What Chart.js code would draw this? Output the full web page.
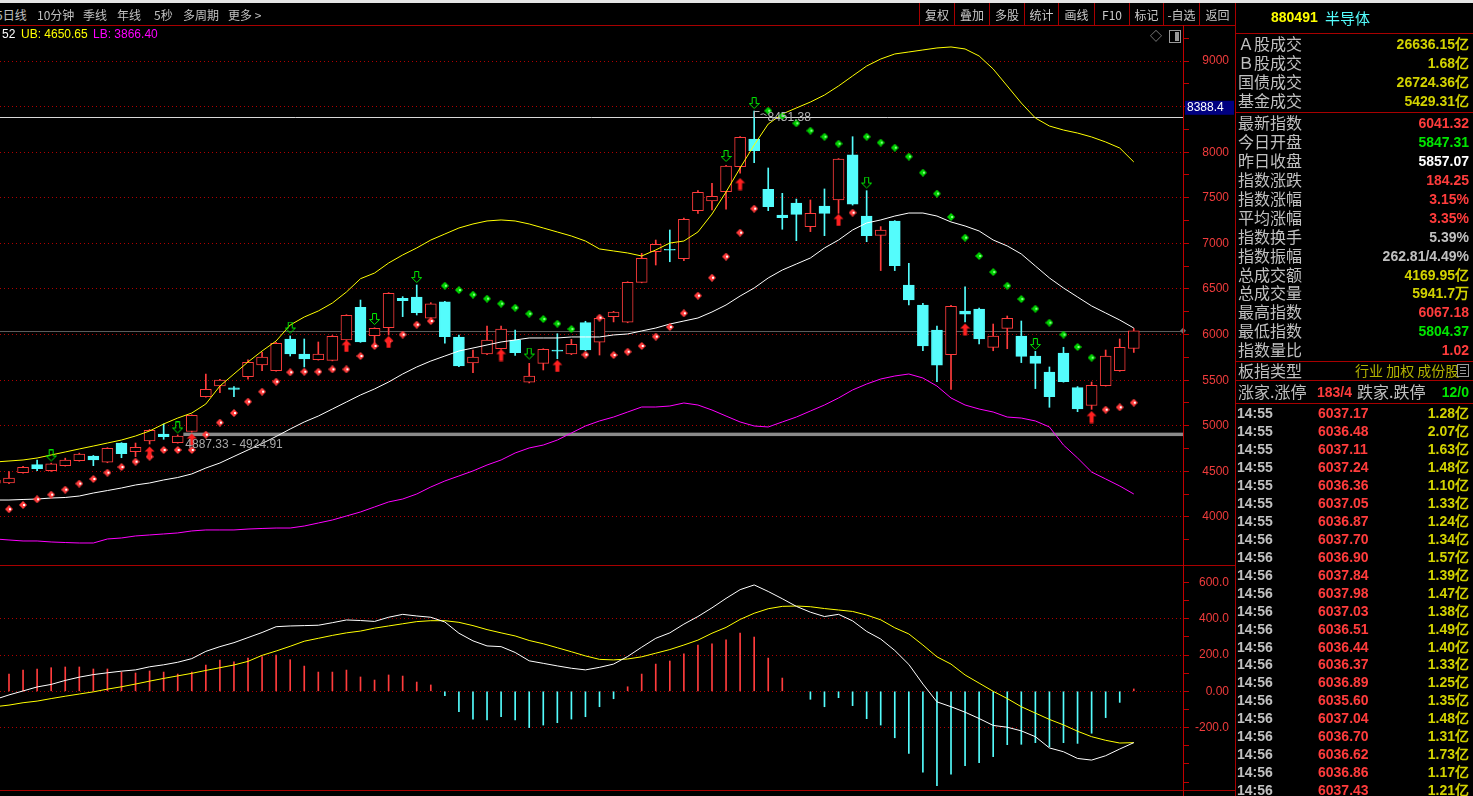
<!DOCTYPE html>
<html lang="zh-CN">
<head>
<meta charset="utf-8">
<title>880491 半导体</title>
<script src="https://cdn.jsdelivr.net/npm/chart.js@4.4.1/dist/chart.umd.min.js"></script>
<style>
  html, body { margin: 0; padding: 0; background: #000; }
  body { position: relative; width: 1473px; height: 796px; overflow: hidden; font-family: "Noto Sans CJK SC", "DejaVu Sans", sans-serif; }
  canvas { position: absolute; left: 0; }
  #priceChart { top: 26px; }
  #macdChart { top: 566px; }
  .t { position: absolute; white-space: nowrap; line-height: 1; }
  .ln { position: absolute; background: #a80000; }
</style>
</head>
<body>
<canvas id="priceChart" width="1235" height="539"></canvas>
<canvas id="macdChart" width="1235" height="224"></canvas>
<div id="chrome"></div>
<script>
// ===== Data: daily candles (first one is cut by the left edge) =====
const candleOpen = [
  4370, 4373, 4486, 4574, 4508, 4563, 4617, 4669, 4600, 4811,
  4717, 4833, 4910, 4815, 4937, 5320, 5436, 5415, 5539, 5667,
  5604, 5952, 5787, 5726, 5718, 5941, 6300, 5989, 6076, 6398,
  6412, 6179, 6358, 5974, 5689, 5787, 5845, 5941, 5477, 5685,
  5830, 5787, 6131, 5916, 6197, 6135, 6573, 6909, 6935, 6832,
  7359, 7465, 7567, 7841, 8145, 7593, 7311, 7442, 7184, 7410,
  7476, 7970, 7300, 7088, 7246, 6544, 6325, 6050, 5780, 6259,
  6281, 5860, 6069, 5985, 5765, 5590, 5798, 5419, 5223, 5441,
  5604, 5847.31
];
const candleHigh = [
  4415, 4497, 4555, 4625, 4590, 4645, 4700, 4675, 4760, 4815,
  4811, 4960, 5020, 4900, 5120, 5568, 5510, 5430, 5722, 5806,
  5915, 5985, 5952, 5919, 5990, 6218, 6379, 6075, 6460, 6416,
  6544, 6350, 6365, 5996, 5831, 6094, 6094, 6050, 5685, 5845,
  6010, 5948, 6146, 6190, 6255, 6580, 6891, 7037, 7147, 7278,
  7578, 7659, 7855, 8170, 8451.38, 7827, 7549, 7486, 7476, 7597,
  7930, 8170, 7578, 7184, 7250, 6782, 6343, 6094, 6320, 6525,
  6290, 6116, 6204, 6149, 5816, 5645, 5861, 5430, 5480, 5831,
  5952, 6067.18
];
const candleLow = [
  4360, 4365, 4480, 4508, 4500, 4558, 4612, 4563, 4595, 4650,
  4661, 4800, 4852, 4810, 4930, 5315, 5363, 5320, 5510, 5604,
  5600, 5765, 5645, 5720, 5712, 5935, 5915, 5905, 5996, 6197,
  6215, 6160, 5905, 5648, 5582, 5780, 5840, 5773, 5470, 5612,
  5736, 5780, 5825, 5776, 6139, 6130, 6568, 6763, 6799, 6810,
  7330, 7366, 7374, 7769, 7885, 7359, 7155, 7030, 7129, 7085,
  7330, 7420, 7019, 6702, 6702, 6325, 5823, 5484, 5400, 6140,
  5897, 5823, 5845, 5693, 5408, 5203, 5478, 5155, 5181, 5435,
  5598, 5804.37
];
const candleClose = [
  4406, 4428, 4545, 4530, 4582, 4625, 4691, 4625, 4753, 4694,
  4764, 4951, 4880, 4888, 5115, 5400, 5502, 5400, 5696, 5754,
  5905, 5787, 5733, 5787, 5981, 6212, 5920, 6070, 6453, 6372,
  6240, 6336, 5978, 5656, 5754, 5941, 6061, 5802, 5546, 5839,
  5818, 5894, 5831, 6179, 6248, 6573, 6836, 6990, 6925, 7264,
  7560, 7516, 7849, 8163, 8017, 7403, 7282, 7319, 7330, 7330,
  7925, 7430, 7085, 7147, 6757, 6379, 5875, 5666, 6310, 6223,
  5952, 5985, 6179, 5761, 5685, 5319, 5484, 5184, 5445, 5765,
  5861, 6041.32
];

// ===== Bollinger bands =====
const bollUpper = [
  4603, 4614, 4625, 4647, 4680, 4713, 4746, 4778, 4811, 4844,
  4888, 4943, 5020, 5085, 5140, 5239, 5436, 5568, 5700, 5820,
  5930, 6105, 6193, 6259, 6346, 6467, 6613, 6675, 6785, 6873,
  6950, 7037, 7103, 7169, 7213, 7246, 7257, 7246, 7213, 7169,
  7125, 7081, 7026, 6939, 6917, 6895, 6862, 6928, 7004, 7026,
  7125, 7322, 7564, 7827, 8079, 8309, 8419, 8485, 8550, 8627,
  8726, 8836, 8945, 9022, 9077, 9099, 9121, 9143, 9154, 9132,
  9055, 8912, 8726, 8539, 8375, 8287, 8243, 8210, 8167, 8112,
  8046, 7893
];
const bollMid = [
  4186, 4186, 4192, 4197, 4208, 4214, 4230, 4263, 4290, 4318,
  4351, 4373, 4406, 4433, 4472, 4537, 4592, 4664, 4735, 4806,
  4883, 4965, 5042, 5107, 5184, 5261, 5338, 5404, 5480, 5568,
  5645, 5710, 5765, 5820, 5853, 5886, 5919, 5941, 5963, 5963,
  5963, 5974, 5974, 5974, 5996, 6007, 6040, 6072, 6116, 6149,
  6182, 6248, 6325, 6423, 6511, 6621, 6708, 6774, 6840, 6950,
  7037, 7147, 7224, 7257, 7300, 7333, 7333, 7300, 7235, 7191,
  7136, 7037, 6972, 6884, 6752, 6621, 6511, 6412, 6314, 6237,
  6160, 6072
];
const bollLower = [
  3759, 3748, 3737, 3737, 3726, 3720, 3715, 3715, 3759, 3770,
  3792, 3803, 3814, 3825, 3847, 3858, 3858, 3858, 3868, 3874,
  3879, 3879, 3901, 3934, 3967, 4011, 4055, 4110, 4165, 4197,
  4252, 4329, 4395, 4450, 4505, 4570, 4625, 4702, 4757, 4789,
  4844, 4921, 4998, 5053, 5096, 5151, 5206, 5206, 5217, 5250,
  5228, 5173, 5107, 5042, 4998, 4987, 5042, 5096, 5162, 5228,
  5305, 5393, 5458, 5513, 5546, 5568, 5524, 5436, 5305, 5228,
  5184, 5151, 5096, 5085, 5053, 4987, 4789, 4647, 4493, 4417,
  4340, 4252
];

// ===== SAR dots (R = below price, red; G = above price, green) =====
const sarValue = [
  null, 4085, 4132, 4194, 4245, 4300, 4366, 4417, 4486, 4548,
  4607, 4661, 4735, 4735, 4735, 4903, 5035, 5140, 5265, 5374,
  5484, 5587, 5593, 5593, 5619, 5619, 5765, 5875, 5930, 6000,
  6109, 6149, 6536, 6489, 6438, 6394, 6339, 6295, 6229, 6171,
  6120, 6061, 5780, 6186, 5776, 5812, 5875, 5978, 6083, 6234,
  6427, 6624, 6855, 7118, 7381, 8455, 8397, 8317, 8236, 8170,
  8094, 7337, 8170, 8105, 8050, 7952, 7776, 7546, 7290, 7063,
  6862, 6686, 6536, 6390, 6284, 6131, 6000, 5864, 5747, 5177,
  5203, 5254
];
const sarSide = [
  "-RRRRRRRRR", "RRRRRRRRRR", "RRRRRRRRRR", "RRGGGGGGGG", "GGRRRRRRRR",
  "RRRRRGGGGG", "GRGGGGGGGG", "GGGGGGGGGR", "RR"
].join("").split("");

// ===== Signal arrows =====
const redArrowAt = [11, 14, 25, 28, 36, 40, 53, 60, 69, 78];
const redArrowPrice = [4707, 4850, 5875, 5919, 5776, 5656, 7651, 7257, 6056, 5096];
const greenArrowAt = [4, 13, 21, 27, 30, 38, 52, 54, 62, 74];
const greenArrowPrice = [4669, 4976, 6072, 6165, 6626, 5787, 7953, 8534, 7662, 5891];

// ===== MACD =====
const macdDif = [
  -45, -20, 2, 24, 38, 60, 78, 92, 102, 111,
  118, 135, 146, 160, 180, 220, 246, 268, 296, 324,
  356, 360, 362, 364, 378, 393, 390, 385, 408, 424,
  415, 408, 382, 320, 278, 250, 246, 214, 168, 154,
  140, 127, 118, 132, 150, 192, 243, 292, 322, 370,
  412, 460, 512, 560, 586, 550, 510, 468, 436, 412,
  424, 388, 330, 288, 225, 148, 40, -58, -85, -115,
  -150, -188, -198, -218, -250, -312, -333, -370, -379, -355,
  -318, -283
];
const macdDea = [
  -85, -76, -63, -54, -40, -27, -15, -3, 12, 25,
  40, 56, 71, 85, 99, 115, 130, 145, 165, 198,
  222, 248, 276, 292, 308, 322, 332, 348, 360, 372,
  384, 389, 389, 380, 362, 340, 322, 305, 280, 262,
  240, 218, 195, 176, 173, 178, 190, 210, 230, 255,
  282, 320, 352, 396, 430, 455, 468, 470, 466, 456,
  448, 440, 420, 394, 350, 316, 255, 190, 150, 90,
  45, 0, -40, -85, -120, -155, -185, -220, -250, -270,
  -285, -283
];
const macdHist = [
  null, 95, 117, 123, 130, 134, 134, 123, 123, 106,
  101, 112, 106, 95, 106, 145, 172, 163, 183, 191,
  200, 174, 139, 106, 106, 117, 79, 62, 90, 84,
  51, 35, -24, -112, -153, -158, -140, -158, -200, -186,
  -173, -153, -140, -85, -41, 25, 95, 150, 167, 206,
  255, 261, 283, 321, 299, 183, 73, null, -44, -85,
  -35, -79, -151, -186, -256, -342, -446, -520, -457, -410,
  -393, -360, -294, -292, -283, -305, -283, -287, -231, -145,
  -61, 13
];

// ===== Axis ticks and marked levels =====
const priceMajorTicks = [4000, 4500, 5000, 5500, 6000, 6500, 7000, 7500, 8000, 8500, 9000];
const priceMinorTicks = [3750, 4250, 4750, 5250, 5750, 6250, 6750, 7250, 7750, 8250, 8750, 9250];
const macdLabelTicks = [-200, 0, 200, 400, 600];
const macdGridTicks = [-200, 0, 200, 400];
const macdMinorTicks = [-500, -400, -300, -100, 100, 300, 500];
const markLevel = 8388.4;
const lastClose = 6041.32;
const rangeLow = 4887.33;
const rangeHigh = 4924.91;
const highLabelAt = 54;

// ===== Text panels =====
const headerNames = ["5日线", "10分钟", "季线", "年线", "5秒", "多周期", "更多 >"];
const toolButtons = ["复权", "叠加", "多股", "统计", "画线", "F10", "标记", "-自选", "返回"];
const marketLabels = ["Ａ股成交", "Ｂ股成交", "国债成交", "基金成交"];
const marketValues = ["26636.15亿", "1.68亿", "26724.36亿", "5429.31亿"];
const quoteLabels = ["最新指数", "今日开盘", "昨日收盘", "指数涨跌", "指数涨幅", "平均涨幅", "指数换手",
  "指数振幅", "总成交额", "总成交量", "最高指数", "最低指数", "指数量比"];
const quoteValues = ["6041.32", "5847.31", "5857.07", "184.25", "3.15%", "3.35%", "5.39%",
  "262.81/4.49%", "4169.95亿", "5941.7万", "6067.18", "5804.37", "1.02"];
const quoteColors = ["r", "g", "w", "r", "r", "r", "s", "s", "y", "y", "r", "g", "r"];
const tradeTimes = ["14:55", "14:55", "14:55", "14:55", "14:55", "14:55", "14:55", "14:56", "14:56", "14:56", "14:56",
  "14:56", "14:56", "14:56", "14:56", "14:56", "14:56", "14:56", "14:56", "14:56", "14:56", "14:56"];
const tradePrices = ["6037.17", "6036.48", "6037.11", "6037.24", "6036.36", "6037.05", "6036.87", "6037.70", "6036.90",
  "6037.84", "6037.98", "6037.03", "6036.51", "6036.44", "6036.37", "6036.89", "6035.60", "6037.04", "6036.70",
  "6036.62", "6036.86", "6037.43"];
const tradeVolumes = ["1.28", "2.07", "1.63", "1.48", "1.10", "1.33", "1.24", "1.34", "1.57", "1.39", "1.47",
  "1.38", "1.49", "1.40", "1.33", "1.25", "1.35", "1.48", "1.31", "1.73", "1.17", "1.21"];

// ===== Colors =====
const UP = "#ff3c3c";
const DOWN = "#54fcfc";
const AXIS_RED = "#f03c3c";
const GRID_RED = "#b00000";
const palette = { r: "#ff3c3c", g: "#00e600", w: "#ffffff", s: "#c0c0c0", y: "#d2d200" };
const NUM_FONT = '"Liberation Sans", Arial, sans-serif';

const idx = candleOpen.map((_, k) => k);
const series = (arr) => idx.map((k) => ({ x: k, y: arr[k] }));
const isUp = (k) => candleClose[k] >= candleOpen[k];

// ===== Point images =====
function arrowImage(up, color, filled) {
  const c = document.createElement("canvas");
  c.width = 11; c.height = 13;
  const g = c.getContext("2d");
  const pts = up
    ? [[5.5, 0.5], [10.5, 5.5], [7.5, 5.5], [7.5, 12.5], [3.5, 12.5], [3.5, 5.5], [0.5, 5.5]]
    : [[3.5, 0.5], [7.5, 0.5], [7.5, 6.5], [10.5, 6.5], [5.5, 11.5], [0.5, 6.5], [3.5, 6.5]];
  g.beginPath();
  pts.forEach(([x, y], i) => (i ? g.lineTo(x, y) : g.moveTo(x, y)));
  g.closePath();
  if (filled) { g.fillStyle = color; g.fill(); }
  else { g.strokeStyle = color; g.lineWidth = 1; g.stroke(); }
  return c;
}
function dotImage(color, shine) {
  const c = document.createElement("canvas");
  c.width = 8; c.height = 8;
  const g = c.getContext("2d");
  g.fillStyle = color;
  g.beginPath(); g.moveTo(4, 0); g.lineTo(8, 4); g.lineTo(4, 8); g.lineTo(0, 4); g.closePath(); g.fill();
  g.fillStyle = shine;
  g.fillRect(4, 3, 2, 2);
  return c;
}
const redArrowImg = arrowImage(true, "#ff2020", true);
const greenArrowImg = arrowImage(false, "#00e600", false);
const redDotImg = dotImage("#ff3c3c", "#ffffff");
const greenDotImg = dotImage("#00d200", "#80ff80");

// ===== Shared axis setup =====
const X_MIN = 0.36, X_MAX = 84.5;
function rightAxis(min, max, tickValues, labelSet, gridSet, fmt) {
  return {
    position: "right",
    min, max,
    afterBuildTicks: (axis) => { axis.ticks = tickValues.map((v) => ({ value: v })); },
    afterFit: (s) => { s.width = 46; s.paddingTop = 0; s.paddingBottom = 0; },
    ticks: {
      autoSkip: false,
      crossAlign: "far",
      color: AXIS_RED,
      font: { family: NUM_FONT, size: 12 },
      callback: (v) => (labelSet.includes(v) ? fmt(v) : ""),
    },
    grid: {
      color: (c) => (c.tick && gridSet.includes(c.tick.value) ? GRID_RED : "transparent"),
      tickColor: "#c00000",
      tickLength: 6,
      lineWidth: 1,
    },
    border: { display: false, dash: [1, 3] },
  };
}
const xAxis = { type: "linear", min: X_MIN, max: X_MAX, display: false, offset: false };
const baseOptions = {
  animation: false,
  responsive: false,
  devicePixelRatio: 1,
  events: [],
  layout: { autoPadding: false, padding: { top: 0, bottom: 0, left: 0, right: 6 } },
  plugins: { legend: { display: false }, tooltip: { enabled: false } },
};

// ===== Price chart overlays: marked levels and notes =====
const priceOverlay = {
  id: "priceOverlay",
  beforeDatasetsDraw(chart) {
    const { ctx, chartArea: a, scales: { x, y } } = chart;
    ctx.save();
    ctx.beginPath(); ctx.rect(a.left, a.top, a.width, a.height); ctx.clip();
    const bx = x.getPixelForValue(13.4);
    const yt = y.getPixelForValue(rangeHigh), yb = y.getPixelForValue(rangeLow);
    ctx.fillStyle = "#8a8a8a";
    ctx.fillRect(bx, yt, a.right - bx, yb - yt);
    const hLine = (v, color) => {
      const py = Math.round(y.getPixelForValue(v)) + 0.5;
      ctx.strokeStyle = color; ctx.lineWidth = 1;
      ctx.beginPath(); ctx.moveTo(a.left, py); ctx.lineTo(a.right, py); ctx.stroke();
    };
    hLine(lastClose, "#5c5c5c");
    hLine(markLevel, "#d8d8d8");
    ctx.restore();
  },
  afterDraw(chart) {
    const { ctx, chartArea: a, scales: { x, y } } = chart;
    ctx.save();
    ctx.font = '12px "Liberation Sans", Arial, sans-serif';
    ctx.textBaseline = "middle";
    ctx.fillStyle = "#b4b4b4";
    ctx.strokeStyle = "#b4b4b4";
    // high note
    const hx = Math.round(x.getPixelForValue(highLabelAt)) + 0.5;
    const hy = Math.round(y.getPixelForValue(candleHigh[highLabelAt])) + 0.5;
    ctx.beginPath(); ctx.moveTo(hx, hy + 6); ctx.lineTo(hx, hy); ctx.lineTo(hx + 5, hy); ctx.stroke();
    ctx.beginPath(); ctx.moveTo(hx + 6, hy + 3); ctx.quadraticCurveTo(hx + 9, hy + 1, hx + 12, hy + 4); ctx.stroke();
    ctx.fillText(candleHigh[highLabelAt].toFixed(2), hx + 13, hy + 6);
    // range note
    const rx = x.getPixelForValue(13.4);
    ctx.fillStyle = "#a8a8a8";
    ctx.fillText(rangeLow.toFixed(2) + " - " + rangeHigh.toFixed(2), rx + 2, y.getPixelForValue(rangeLow) + 9);
    // last price marker on the axis
    const ly = y.getPixelForValue(lastClose);
    ctx.fillStyle = "#707070";
    ctx.beginPath(); ctx.moveTo(a.right - 3, ly); ctx.lineTo(a.right, ly - 3); ctx.lineTo(a.right + 3, ly); ctx.lineTo(a.right, ly + 3); ctx.closePath(); ctx.fill();
    // marked level tag
    const my = y.getPixelForValue(markLevel);
    ctx.fillStyle = "#000080";
    ctx.fillRect(a.right + 2, my - 16, 49, 14);
    ctx.fillStyle = "#ffffff";
    ctx.fillText(String(markLevel), a.right + 4, my - 9);
    ctx.restore();
  },
};

// ===== Price chart =====
new Chart(document.getElementById("priceChart"), {
  type: "bar",
  data: {
    datasets: [
      { type: "line", data: greenArrowAt.map((k, j) => ({ x: k, y: greenArrowPrice[j] })), showLine: false,
        pointStyle: greenArrowImg, pointRadius: 6, order: 0 },
      { type: "line", data: redArrowAt.map((k, j) => ({ x: k, y: redArrowPrice[j] })), showLine: false,
        pointStyle: redArrowImg, pointRadius: 6, order: 0 },
      { type: "line", data: idx.filter((k) => sarSide[k] === "R").map((k) => ({ x: k, y: sarValue[k] })),
        showLine: false, pointStyle: redDotImg, pointRadius: 4, order: 1 },
      { type: "line", data: idx.filter((k) => sarSide[k] === "G").map((k) => ({ x: k, y: sarValue[k] })),
        showLine: false, pointStyle: greenDotImg, pointRadius: 4, order: 1 },
      { type: "line", data: series(bollUpper), borderColor: "#ffff00", borderWidth: 1, pointRadius: 0, tension: 0, order: 2 },
      { type: "line", data: series(bollMid), borderColor: "#ffffff", borderWidth: 1, pointRadius: 0, tension: 0, order: 2 },
      { type: "line", data: series(bollLower), borderColor: "#ff00ff", borderWidth: 1, pointRadius: 0, tension: 0, order: 2 },
      {
        type: "bar",
        data: idx.map((k) => ({ x: k, y: [candleOpen[k], candleClose[k]] })),
        backgroundColor: idx.map((k) => (isUp(k) ? "#000000" : DOWN)),
        borderColor: idx.map((k) => (isUp(k) ? UP : DOWN)),
        borderWidth: 1, borderSkipped: false, grouped: false,
        barThickness: 11, maxBarThickness: 11, order: 3,
      },
      {
        type: "bar",
        data: idx.map((k) => ({ x: k, y: [candleLow[k], candleHigh[k]] })),
        backgroundColor: idx.map((k) => (isUp(k) ? UP : DOWN)),
        borderWidth: 0, grouped: false,
        barThickness: 1, maxBarThickness: 1, order: 4,
      },
    ],
  },
  options: {
    ...baseOptions,
    scales: {
      x: xAxis,
      y: rightAxis(3473.6, 9383.8, [...priceMajorTicks, ...priceMinorTicks].sort((p, q) => p - q),
        priceMajorTicks, priceMajorTicks, (v) => String(v)),
    },
  },
  plugins: [priceOverlay],
});

// ===== MACD chart =====
new Chart(document.getElementById("macdChart"), {
  type: "bar",
  data: {
    datasets: [
      { type: "line", data: series(macdDif), borderColor: "#ffffff", borderWidth: 1, pointRadius: 0, tension: 0, order: 0 },
      { type: "line", data: series(macdDea), borderColor: "#ffff00", borderWidth: 1, pointRadius: 0, tension: 0, order: 1 },
      {
        type: "bar",
        data: idx.map((k) => ({ x: k, y: macdHist[k] === null ? null : [0, macdHist[k]] })),
        backgroundColor: idx.map((k) => (macdHist[k] >= 0 ? UP : DOWN)),
        borderWidth: 0, grouped: false,
        barThickness: 1, maxBarThickness: 1, order: 2,
      },
    ],
  },
  options: {
    ...baseOptions,
    scales: {
      x: xAxis,
      y: rightAxis(-543.8, 690.4, [...macdLabelTicks, ...macdMinorTicks].sort((p, q) => p - q),
        macdLabelTicks, macdGridTicks, (v) => (v === 0 ? "0.00" : v.toFixed(1))),
    },
  },
});

// ===== Window chrome and quote panel =====
const chrome = document.getElementById("chrome");
function box(x, y, w, h, color) {
  const d = document.createElement("div");
  d.className = "ln";
  Object.assign(d.style, { left: x + "px", top: y + "px", width: w + "px", height: h + "px" });
  if (color) d.style.background = color;
  chrome.appendChild(d);
  return d;
}
function put(str, x, y, color, size, opts = {}) {
  const d = document.createElement("div");
  d.className = "t";
  d.textContent = str;
  d.style.color = color;
  d.style.fontSize = size + "px";
  d.style.top = (y - size / 2) + "px";
  if (opts.right) d.style.right = (1473 - x) + "px";
  else d.style.left = x + "px";
  if (opts.num) { d.style.fontFamily = NUM_FONT; d.style.fontWeight = "bold"; }
  if (opts.plainNum) d.style.fontFamily = NUM_FONT;
  chrome.appendChild(d);
  return d;
}

box(0, 0, 1473, 3, "#e4e4e4");
box(0, 25, 1235, 1);
box(0, 565, 1236, 1);
box(0, 790, 1236, 1);
box(1183, 25, 1, 771, "#c00000");
box(1235, 3, 1, 793);

const headerX = [-4, 37, 83, 117, 154, 183, 228];
headerNames.forEach((s, i) => put(s, headerX[i], 15, "#c0c0c0", 12));
put("52", 2, 34, "#ffffff", 12, { plainNum: true });
put("UB: 4650.65", 21, 34, "#ffff00", 12, { plainNum: true });
put("LB: 3866.40", 93, 34, "#ff00ff", 12, { plainNum: true });
put("◇", 1150, 36, "#9a9a9a", 12);
const icon = box(1169, 30, 10, 11, "#000");
icon.style.border = "1px solid #9a9a9a";
box(1175, 32, 4, 9, "#9a9a9a");

const sepX = [919, 954, 989, 1024, 1058, 1094, 1129, 1163, 1199, 1235];
sepX.forEach((x) => box(x, 3, 1, 22));
toolButtons.forEach((s, i) => {
  const d = put(s, sepX[i] + 1, 15, "#c8c8c8", 12);
  d.style.width = (sepX[i + 1] - sepX[i] - 1) + "px";
  d.style.textAlign = "center";
});

// quote panel
put("880491", 1271, 17, "#ffff00", 14, { num: true });
put("半导体", 1325, 17, DOWN, 15);
[33, 112, 361, 380, 403].forEach((y) => box(1235, y, 238, 1));
marketLabels.forEach((s, i) => {
  const y = 43.5 + i * 19;
  put(s, 1238, y - 1, "#c0c0c0", 16);
  put(marketValues[i], 1469, y, palette.y, 14, { right: true, num: true });
});
quoteLabels.forEach((s, i) => {
  const y = 123.3 + i * 18.9;
  put(s, 1238, y - 1, "#c0c0c0", 16);
  put(quoteValues[i], 1469, y, palette[quoteColors[i]], 14, { right: true, num: true });
});
put("板指类型", 1238, 370, "#c0c0c0", 16);
put("行业 加权 成份股", 1355, 370, "#b4b400", 14);
const gridIcon = box(1457, 364, 10, 11, "#000");
gridIcon.style.border = "1px solid #9a9a9a";
box(1460, 367, 6, 1, "#9a9a9a"); box(1460, 370, 6, 1, "#9a9a9a"); box(1460, 373, 6, 1, "#9a9a9a");
put("涨家.涨停", 1238, 390.5, "#c0c0c0", 16);
put("183/4", 1317, 391.5, palette.r, 14, { num: true });
put("跌家.跌停", 1357, 390.5, "#c0c0c0", 16);
put("12/0", 1469, 391.5, palette.g, 14, { right: true, num: true });
tradeTimes.forEach((t, i) => {
  const y = 413.3 + i * 17.94;
  put(t, 1237, y, "#c0c0c0", 14, { num: true });
  put(tradePrices[i], 1318, y, palette.r, 14, { num: true });
  put(tradeVolumes[i] + "亿", 1469, y, palette.y, 14, { right: true, num: true });
});
</script>
</body>
</html>
